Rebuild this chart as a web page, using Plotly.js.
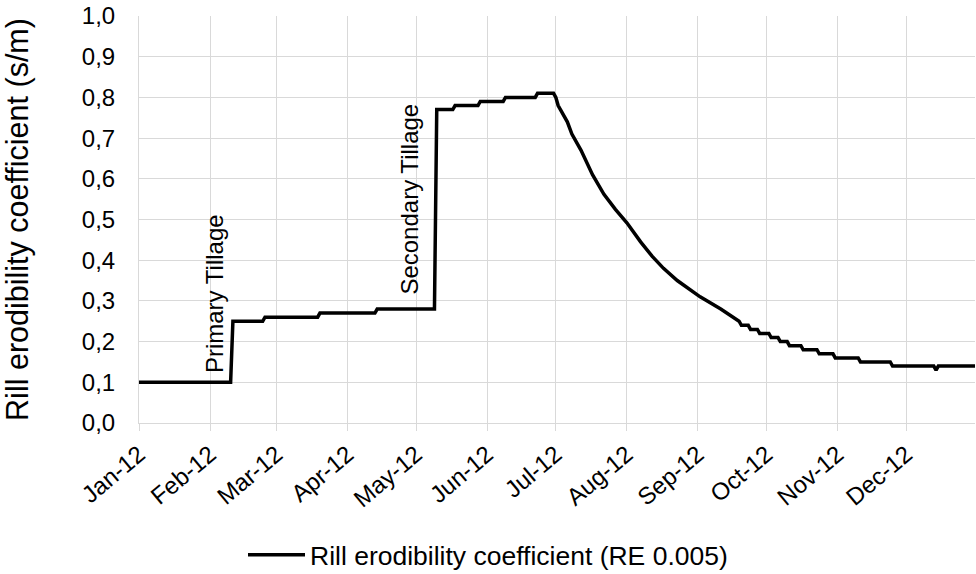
<!DOCTYPE html>
<html>
<head>
<meta charset="utf-8">
<script src="https://cdn.plot.ly/plotly-3.0.1.min.js"></script>
<style>html,body{margin:0;padding:0;background:#fff;}#chart{width:976px;height:574px;}</style>
</head>
<body>
<div id="chart"></div>
<script>
const seriesName = 'Rill erodibility coefficient (RE 0.005)';
const dates = [
  '2012-01-01','2012-02-10','2012-02-11','2012-02-24','2012-02-25','2012-03-19','2012-03-20',
  '2012-04-13','2012-04-14','2012-05-09','2012-05-10','2012-05-17','2012-05-18','2012-05-28',
  '2012-05-29','2012-06-08','2012-06-09','2012-06-22','2012-06-23','2012-06-30',
  '2012-07-01','2012-07-02','2012-07-03','2012-07-05','2012-07-06','2012-07-08','2012-07-12',
  '2012-07-17','2012-07-22','2012-07-27','2012-08-01','2012-08-07','2012-08-12','2012-08-17',
  '2012-08-23','2012-09-02','2012-09-11','2012-09-19',
  '2012-09-20','2012-09-23','2012-09-24','2012-09-27','2012-09-28','2012-10-02','2012-10-03',
  '2012-10-06','2012-10-07','2012-10-10','2012-10-11','2012-10-16','2012-10-17','2012-10-23',
  '2012-10-24','2012-10-30','2012-10-31','2012-11-10','2012-11-11','2012-11-24','2012-11-25',
  '2012-12-13','2012-12-14','2012-12-15','2012-12-31'
];
const values = [
  0.10,0.10,0.25,0.25,0.26,0.26,0.27,
  0.27,0.28,0.28,0.77,0.77,0.78,0.78,
  0.79,0.79,0.80,0.80,0.81,0.81,
  0.80,0.78,0.77,0.75,0.74,0.71,0.67,
  0.61,0.562,0.525,0.492,0.445,0.41,0.38,
  0.35,0.31,0.28,0.25,
  0.24,0.24,0.23,0.23,0.22,0.22,0.21,
  0.21,0.20,0.20,0.19,0.19,0.18,0.18,
  0.17,0.17,0.16,0.16,0.15,0.15,0.14,
  0.14,0.13,0.14,0.14
];
const yTicks = [0,0.1,0.2,0.3,0.4,0.5,0.6,0.7,0.8,0.9,1.0];
const notes = ['Primary Tillage','Secondary Tillage'];
const noteDates = ['2012-02-03','2012-04-28'];
const noteValues = [0.118,0.31];

const font = 'Liberation Sans, Arial, sans-serif';
const trace = {
  x: dates, y: values, type: 'scatter', mode: 'lines', name: seriesName,
  line: {color: '#000000', width: 3.5}
};
const layout = {
  width: 976, height: 574,
  margin: {l: 139, r: 1, t: 16, b: 151},
  paper_bgcolor: '#fff', plot_bgcolor: '#fff',
  separators: ',.',
  font: {family: font, color: '#000', size: 24},
  showlegend: true,
  legend: {orientation: 'h', xref: 'container', yref: 'container', x: 0.5, xanchor: 'center', y: 0.033, yanchor: 'middle',
           itemwidth: 57, font: {family: font, size: 26.5, color: '#000'}},
  xaxis: {
    type: 'date', range: ['2012-01-01', '2012-12-31'],
    tick0: '2012-01-01', dtick: 'M1', tickformat: '%b-%y', tickangle: -40,
    showgrid: true, gridcolor: '#d9d9d9', gridwidth: 1,
    showline: true, linecolor: '#d9d9d9', linewidth: 1,
    ticks: 'outside', ticklen: 7, tickcolor: '#d9d9d9',
    tickfont: {family: font, size: 24, color: '#000'}, zeroline: false
  },
  yaxis: {
    range: [0, 1.0], tickvals: yTicks, tickformat: '.1f',
    showgrid: true, gridcolor: '#d9d9d9', gridwidth: 1,
    showline: true, linecolor: '#d9d9d9', linewidth: 1, zeroline: false,
    ticks: '', ticklen: 0, ticklabelstandoff: 18,
    tickfont: {family: font, size: 24, color: '#000'},
    title: {text: 'Rill erodibility coefficient (s/m)', font: {family: font, size: 30.5, color: '#000'}, standoff: 45}
  },
  annotations: notes.map((t, i) => ({
    x: noteDates[i], y: noteValues[i], xref: 'x', yref: 'y', text: t, showarrow: false,
    textangle: -90, xanchor: 'center', yanchor: 'bottom',
    font: {family: font, size: 24, color: '#000'}
  }))
};
Plotly.newPlot('chart', [trace], layout, {displayModeBar: false, staticPlot: true});
</script>
</body>
</html>
